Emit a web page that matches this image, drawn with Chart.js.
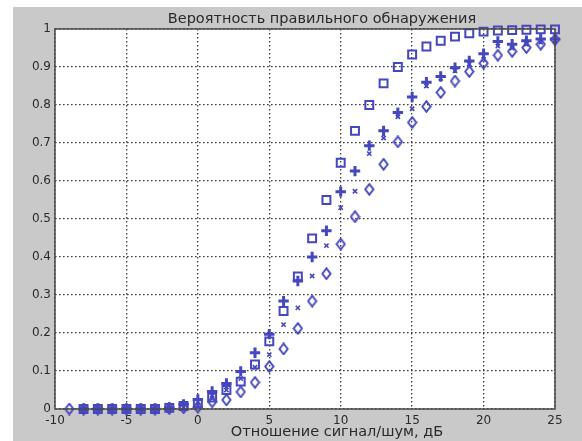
<!DOCTYPE html>
<html>
<head>
<meta charset="utf-8">
<script src="https://cdn.jsdelivr.net/npm/chart.js@4/dist/chart.umd.min.js"></script>
<style>
  html, body { margin: 0; padding: 0; background: #ffffff; }
  #wrap { width: 582px; height: 441px; position: relative; }
</style>
</head>
<body>
<div id="wrap"><canvas id="c" width="582" height="441"></canvas></div>
<script>
// Отношение сигнал/шум, дБ
const snr = [-9, -8, -7, -6, -5, -4, -3, -2, -1, 0, 1, 2, 3, 4, 5, 6, 7, 8, 9, 10, 11, 12, 13, 14, 15, 16, 17, 18, 19, 20, 21, 22, 23, 24, 25];

// Вероятность правильного обнаружения для четырёх вариантов
const pSquare  = [null, 0, 0, 0, 0, 0, 0, 0.003, 0.008, 0.015, 0.03, 0.05, 0.072, 0.117, 0.178, 0.258, 0.349, 0.449, 0.55, 0.648, 0.732, 0.80, 0.857, 0.90, 0.933, 0.954, 0.969, 0.98, 0.989, 0.993, 0.996, 0.997, 0.998, 0.999, 0.999];
const pPlus    = [null, 0, 0, 0, 0, 0, 0, 0.004, 0.012, 0.025, 0.046, 0.067, 0.099, 0.148, 0.197, 0.284, 0.337, 0.40, 0.469, 0.572, 0.626, 0.693, 0.732, 0.78, 0.821, 0.86, 0.875, 0.898, 0.916, 0.935, 0.967, 0.96, 0.969, 0.974, 0.974];
const pCross   = [null, 0, 0, 0, 0, 0, 0, 0.002, 0.005, 0.01, 0.028, 0.05, 0.08, 0.11, 0.143, 0.222, 0.266, 0.35, 0.43, 0.53, 0.573, 0.672, 0.713, 0.769, 0.79, 0.85, 0.87, 0.89, 0.908, 0.92, 0.955, 0.95, 0.96, 0.965, 0.97];
const pDiamond = [0, 0, 0, 0, 0, 0, 0, 0.001, 0.003, 0.005, 0.019, 0.024, 0.045, 0.07, 0.112, 0.158, 0.212, 0.284, 0.356, 0.434, 0.506, 0.578, 0.644, 0.703, 0.754, 0.796, 0.833, 0.863, 0.888, 0.91, 0.931, 0.941, 0.951, 0.96, 0.972];

const xTicks = [-10, -5, 0, 5, 10, 15, 20, 25];
const yTicks = [0, 0.1, 0.2, 0.3, 0.4, 0.5, 0.6, 0.7, 0.8, 0.9, 1];

const titleText = 'Вероятность правильного обнаружения';
const xLabelText = 'Отношение сигнал/шум, дБ';

const markerColor = '#4646be';

function toPoints(values) {
  const pts = [];
  values.forEach((v, i) => { if (v !== null) pts.push({ x: snr[i], y: v }); });
  return pts;
}

// Вытянутый по вертикали ромб как маркер
function diamondMarker() {
  const cv = document.createElement('canvas');
  cv.width = 11; cv.height = 13;
  const g = cv.getContext('2d');
  g.strokeStyle = markerColor;
  g.lineWidth = 1.9;
  g.beginPath();
  g.moveTo(5.5, 1.2);
  g.lineTo(9.6, 6.5);
  g.lineTo(5.5, 11.8);
  g.lineTo(1.4, 6.5);
  g.closePath();
  g.stroke();
  return cv;
}

const backdrop = {
  id: 'backdrop',
  beforeDraw(chart) {
    const { ctx, chartArea: a, width, height } = chart;
    ctx.save();
    ctx.fillStyle = '#ffffff';
    ctx.fillRect(0, 0, width, height);
    ctx.fillStyle = '#c9c9c9';
    ctx.fillRect(13, 7, width - 13, height - 7);
    ctx.fillStyle = '#ffffff';
    ctx.fillRect(a.left, a.top, a.right - a.left, a.bottom - a.top);
    ctx.restore();
  },
  afterDraw(chart) {
    const { ctx, chartArea: a } = chart;
    ctx.save();
    ctx.strokeStyle = '#4a4a4a';
    ctx.lineWidth = 1.5;
    ctx.strokeRect(a.left, a.top, a.right - a.left, a.bottom - a.top);
    ctx.fillStyle = '#2a2a2a';
    ctx.textAlign = 'center';
    ctx.textBaseline = 'middle';
    ctx.font = '14.5px "DejaVu Sans"';
    ctx.fillText(titleText, 322, 19);
    ctx.fillText(xLabelText, 337, 432);
    ctx.restore();
  }
};

const dash = [1.6, 2.4];
const gridStyle = {
  color: '#3c3c3c',
  lineWidth: 1.3,
  drawTicks: false,
  borderDash: dash
};
const borderStyle = { display: false, dash: dash };

function fmtTick(v) {
  return String(Math.round(v * 10) / 10);
}

new Chart(document.getElementById('c'), {
  type: 'scatter',
  data: {
    datasets: [
      { label: 'квадраты', data: toPoints(pSquare), pointStyle: 'rect', radius: 5.6, borderColor: markerColor, backgroundColor: 'rgba(0,0,0,0)', borderWidth: 2, clip: false },
      { label: 'плюсы', data: toPoints(pPlus), pointStyle: 'cross', radius: 5.2, borderColor: markerColor, backgroundColor: markerColor, borderWidth: 3, clip: false },
      { label: 'крестики', data: toPoints(pCross), pointStyle: 'crossRot', radius: 3, borderColor: markerColor, backgroundColor: markerColor, borderWidth: 1.6, clip: false },
      { label: 'ромбы', data: toPoints(pDiamond), pointStyle: diamondMarker(), borderColor: markerColor, backgroundColor: markerColor, clip: false }
    ]
  },
  options: {
    responsive: false,
    animation: false,
    events: [],
    layout: { padding: { left: 0, top: 29, right: 27, bottom: 0 } },
    plugins: { legend: { display: false }, title: { display: false }, tooltip: { enabled: false } },
    scales: {
      x: {
        type: 'linear',
        min: -10, max: 25,
        afterBuildTicks(scale) { scale.ticks = xTicks.map(v => ({ value: v })); },
        afterFit(scale) { scale.height = 32; },
        border: borderStyle,
        grid: gridStyle,
        ticks: { color: '#2a2a2a', font: { family: 'DejaVu Sans', size: 12 }, padding: 5, maxRotation: 0, autoSkip: false, callback: fmtTick }
      },
      y: {
        type: 'linear',
        min: 0, max: 1,
        afterBuildTicks(scale) { scale.ticks = yTicks.map(v => ({ value: v })); },
        afterFit(scale) { scale.width = 55; },
        border: borderStyle,
        grid: gridStyle,
        ticks: { color: '#2a2a2a', font: { family: 'DejaVu Sans', size: 12 }, padding: 4, autoSkip: false, callback: fmtTick }
      }
    }
  },
  plugins: [backdrop]
});
</script>
</body>
</html>
